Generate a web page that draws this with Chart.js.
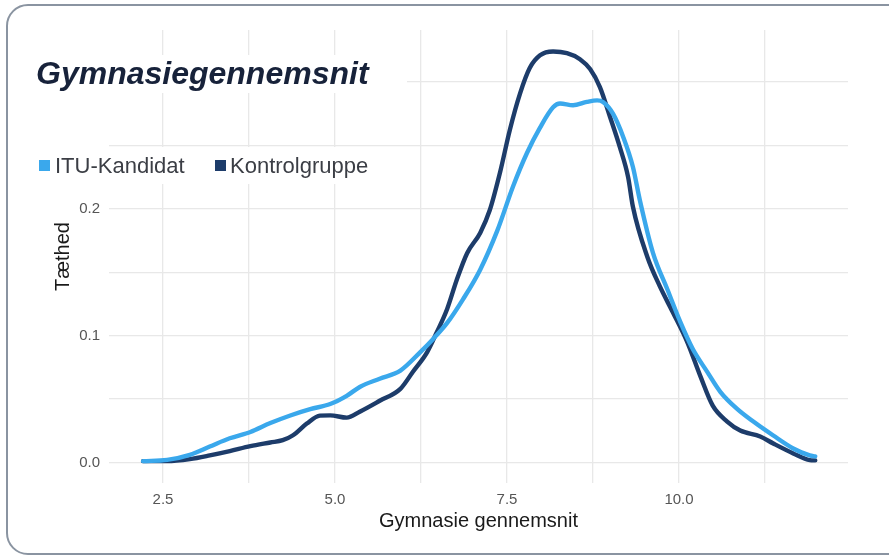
<!DOCTYPE html>
<html>
<head>
<meta charset="utf-8">
<script src="https://cdn.jsdelivr.net/npm/chart.js@4.4.1/dist/chart.umd.min.js"></script>
<style>
  html, body { margin: 0; padding: 0; background: #ffffff; }
  #wrap { position: absolute; left: 0; top: 0; width: 889px; height: 556px; overflow: hidden; }
  #frame { position: absolute; left: 6px; top: 4px; width: 930px; height: 551px; box-sizing: border-box;
           border: 2.5px solid #8a94a1; border-radius: 22px; pointer-events: none; z-index: 2; }
  #box { position: absolute; left: 0; top: 0; width: 889px; height: 556px; z-index: 1; }
</style>
</head>
<body>
<div id="wrap">
  <div id="box"><canvas id="c"></canvas></div>
  <div id="frame"></div>
</div>
<script>
// ---- Data ----
const chartTitle = "Gymnasiegennemsnit";
const seriesNames = ["ITU-Kandidat", "Kontrolgruppe"];
const seriesColors = ["#3aa8ec", "#1d3c6a"];

const ituX = [2.21, 2.56, 2.89, 3.18, 3.47, 3.77, 4.06, 4.35, 4.64, 4.93, 5.17, 5.36, 5.65, 5.95, 6.24, 6.42, 6.63, 6.86, 7.11, 7.36, 7.59, 7.79, 7.98, 8.17, 8.27, 8.46, 8.66, 8.81, 8.90, 9.04, 9.19, 9.33, 9.43, 9.62, 9.83, 10.02, 10.20, 10.41, 10.60, 10.84, 11.08, 11.37, 11.66, 11.90, 11.98];
const ituY = [0.001, 0.002, 0.006, 0.0125, 0.019, 0.024, 0.031, 0.037, 0.042, 0.046, 0.0525, 0.0595, 0.066, 0.0724, 0.087, 0.097, 0.11, 0.1286, 0.152, 0.183, 0.218, 0.244, 0.264, 0.28, 0.283, 0.2816, 0.2843, 0.2855, 0.284, 0.275, 0.2565, 0.233, 0.207, 0.1655, 0.1365, 0.1106, 0.0894, 0.0714, 0.0557, 0.0424, 0.0322, 0.0212, 0.011, 0.0055, 0.0047];

const kontrolX = [2.21, 2.56, 2.89, 3.18, 3.47, 3.77, 4.06, 4.24, 4.39, 4.59, 4.78, 4.93, 5.17, 5.36, 5.65, 5.95, 6.13, 6.34, 6.48, 6.63, 6.77, 6.92, 7.11, 7.25, 7.40, 7.54, 7.69, 7.83, 7.98, 8.17, 8.37, 8.56, 8.71, 8.85, 9.00, 9.14, 9.26, 9.33, 9.54, 9.72, 9.91, 10.12, 10.31, 10.49, 10.70, 10.89, 11.18, 11.37, 11.66, 11.90, 11.98];
const kontrolY = [0.001, 0.001, 0.0026, 0.0055, 0.0089, 0.0128, 0.0157, 0.0175, 0.0214, 0.0306, 0.0369, 0.0371, 0.0353, 0.04, 0.0486, 0.058, 0.0713, 0.087, 0.1027, 0.121, 0.144, 0.165, 0.181, 0.199, 0.229, 0.262, 0.291, 0.311, 0.321, 0.324, 0.3227, 0.318, 0.31, 0.296, 0.272, 0.2486, 0.225, 0.2016, 0.162, 0.139, 0.1184, 0.0949, 0.068, 0.0447, 0.0322, 0.0251, 0.0204, 0.0149, 0.0071, 0.0018, 0.0016];

const xTickLabels = [2.5, 5.0, 7.5, 10.0];
const xGridValues = [2.5, 3.75, 5.0, 6.25, 7.5, 8.75, 10.0, 11.25];
const yTickLabels = [0.0, 0.1, 0.2];
const yGridValues = [0.0, 0.05, 0.1, 0.15, 0.2, 0.25, 0.3];
const xTitle = "Gymnasie gennemsnit";
const yTitle = "Tæthed";

// ---- Build ----
function toPoints(xs, ys) { return xs.map((x, i) => ({ x: x, y: ys[i] })); }
const FONT = "'Liberation Sans', Arial, Helvetica, sans-serif";
const isIn = (arr, v) => arr.some(a => Math.abs(a - v) < 1e-6);

const overlayPlugin = {
  id: 'overlay',
  afterDraw(chart) {
    const ctx = chart.ctx;
    ctx.save();
    // white bands behind title and legend
    ctx.fillStyle = '#ffffff';
    ctx.fillRect(20, 55, 387, 38);
    ctx.fillRect(20, 147, 360, 37);
    // title
    ctx.fillStyle = '#17223a';
    ctx.font = 'italic bold 32px ' + FONT;
    ctx.textBaseline = 'alphabetic';
    ctx.textAlign = 'left';
    ctx.fillText(chartTitle, 36, 84);
    // legend
    ctx.font = '22px ' + FONT;
    const items = [{ sx: 39, tx: 55 }, { sx: 215, tx: 230 }];
    items.forEach((it, i) => {
      ctx.fillStyle = seriesColors[i];
      ctx.fillRect(it.sx, 160, 11, 11);
      ctx.fillStyle = '#3b3e45';
      ctx.fillText(seriesNames[i], it.tx, 173);
    });
    ctx.restore();
  }
};

new Chart(document.getElementById('c'), {
  type: 'line',
  data: {
    datasets: [
      { label: seriesNames[0], data: toPoints(ituX, ituY), borderColor: seriesColors[0], backgroundColor: seriesColors[0] },
      { label: seriesNames[1], data: toPoints(kontrolX, kontrolY), borderColor: seriesColors[1], backgroundColor: seriesColors[1] }
    ]
  },
  options: {
    responsive: true,
    maintainAspectRatio: false,
    devicePixelRatio: 1,
    animation: false,
    parsing: false,
    layout: { padding: { top: 30, right: 41, left: 0, bottom: 0 } },
    elements: {
      point: { radius: 0, hoverRadius: 0 },
      line: { borderWidth: 4.4, cubicInterpolationMode: 'monotone', borderCapStyle: 'round', borderJoinStyle: 'round', fill: false }
    },
    plugins: {
      legend: { display: false },
      title: { display: false },
      tooltip: { enabled: false }
    },
    scales: {
      x: {
        type: 'linear',
        min: 1.715,
        max: 12.456,
        afterBuildTicks(scale) { scale.ticks = xGridValues.map(v => ({ value: v })); },
        afterFit(scale) { scale.height = 73; },
        grid: { color: '#e8e8e8', lineWidth: 1.3, drawTicks: false },
        border: { display: false },
        ticks: {
          autoSkip: false, maxRotation: 0, padding: 8,
          color: '#555555', font: { family: FONT, size: 15 },
          callback: (v) => isIn(xTickLabels, v) ? Number(v).toFixed(1) : ''
        },
        title: { display: true, text: xTitle, color: '#1a1a1a', font: { family: FONT, size: 20 }, padding: { top: 0, bottom: 23 } }
      },
      y: {
        type: 'linear',
        min: -0.01625,
        max: 0.341,
        afterBuildTicks(scale) { scale.ticks = yGridValues.map(v => ({ value: v })); },
        afterFit(scale) { scale.width = 109; },
        grid: { color: '#e8e8e8', lineWidth: 1.3, drawTicks: false },
        border: { display: false },
        ticks: {
          autoSkip: false, padding: 9,
          color: '#555555', font: { family: FONT, size: 15 },
          callback: (v) => isIn(yTickLabels, v) ? Number(v).toFixed(1) : ''
        },
        title: { display: true, text: yTitle, color: '#1a1a1a', font: { family: FONT, size: 20 }, padding: { top: 51, bottom: 0 } }
      }
    }
  },
  plugins: [overlayPlugin]
});
</script>
</body>
</html>
